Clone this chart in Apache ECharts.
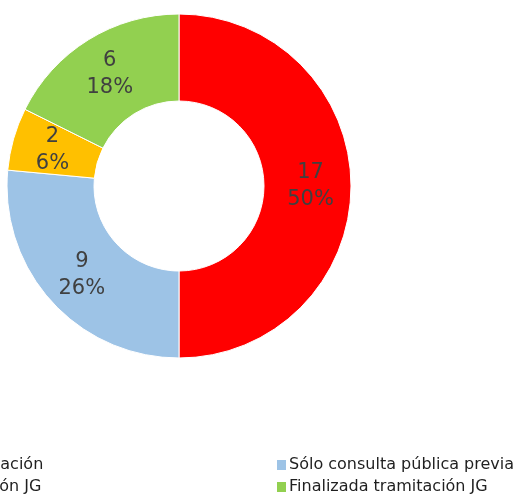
<!DOCTYPE html>
<html>
<head>
<meta charset="utf-8">
<script src="https://cdn.jsdelivr.net/npm/echarts@6/dist/echarts.min.js"></script>
<style>
  html, body { margin: 0; padding: 0; background: #fff; }
  #chart { width: 514px; height: 495px; }
</style>
</head>
<body>
<div id="chart"></div>
<script>
// estado de las tramitaciones (orden de Excel, sentido horario desde arriba)
const categories = [
  "En tramitación",
  "Sólo consulta pública previa",
  "Tramitación JG",
  "Finalizada tramitación JG",
];
const values = [17, 9, 2, 6];
const colors = ["#ff0000", "#9dc3e6", "#ffc000", "#92d050"];

const pieData = categories.map((name, i) => ({
  name: name,
  value: values[i],
  itemStyle: { color: colors[i] },
}));

const legendBase = {
  orient: "vertical",
  top: 457,
  height: 80,
  padding: 0,
  itemWidth: 9,
  itemHeight: 10,
  itemGap: 6,
  icon: "rect",
  selectedMode: false,
  itemStyle: { borderWidth: 0 },
  textStyle: {
    fontFamily: "DejaVu Sans",
    fontSize: 16,
    color: "#1f1f1f",
    padding: [0, 0, 0, -2],
  },
};

const chart = echarts.init(document.getElementById("chart"));
chart.setOption({
  animation: false,
  legend: [
    Object.assign({}, legendBase, { left: -86, data: [categories[0], categories[2]] }),
    Object.assign({}, legendBase, { left: 277, data: [categories[1], categories[3]] }),
  ],
  series: [
    {
      type: "pie",
      center: [179, 186],
      radius: [85, 172],
      startAngle: 90,
      clockwise: true,
      percentPrecision: 0,
      avoidLabelOverlap: false,
      itemStyle: { borderColor: "#fff", borderWidth: 1 },
      label: {
        show: true,
        position: "inside",
        formatter: "{c}\n{d}%",
        fontFamily: "DejaVu Sans",
        fontSize: 21,
        lineHeight: 27,
        color: "#404040",
      },
      labelLine: { show: false },
      emphasis: { disabled: true },
      data: pieData,
    },
  ],
});
window.onresize = function () {
  chart.resize();
};
</script>
</body>
</html>
